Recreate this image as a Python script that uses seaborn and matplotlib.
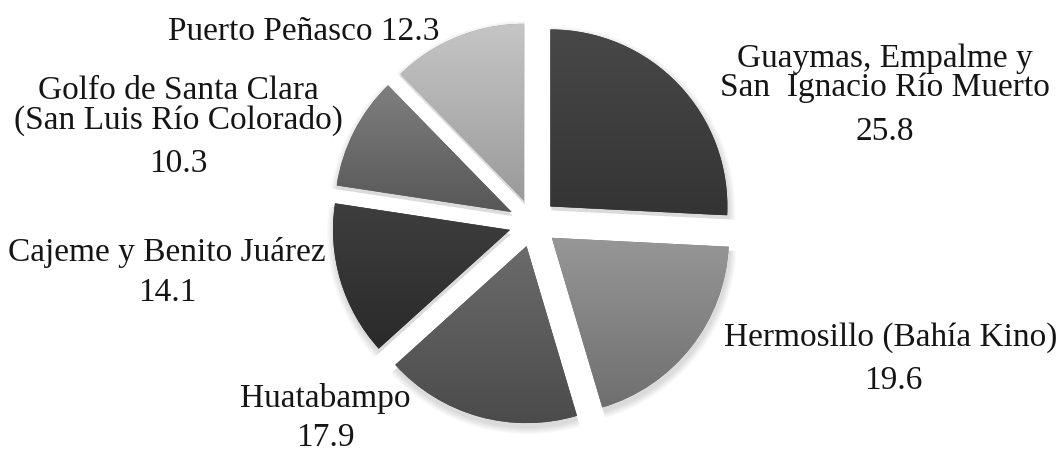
import numpy as np
import matplotlib
matplotlib.use("Agg")
import matplotlib.pyplot as plt
import seaborn as sns
from matplotlib.colors import LinearSegmentedColormap

# Share of the catch by fishing region (%), clockwise from 12 o'clock
regions = [
    "Guaymas, Empalme y\nSan  Ignacio Río Muerto",
    "Hermosillo (Bahía Kino)",
    "Huatabampo",
    "Cajeme y Benito Juárez",
    "Golfo de Santa Clara\n(San Luis Río Colorado)",
    "Puerto Peñasco",
]
shares = [25.8, 19.6, 17.9, 14.1, 10.3, 12.3]

# grey shading of each slice, top and bottom of its gradient
shade_top = ["#484848", "#979797", "#6b6b6b", "#3e3e3e", "#7f7f7f", "#c5c5c5"]
shade_bottom = ["#343434", "#6f6f6f", "#4b4b4b", "#2a2a2a", "#575757", "#9b9b9b"]

W, H = 1058, 453
sns.set_theme(style="white")
plt.rcParams["font.family"] = ["Liberation Serif", "DejaVu Serif"]

fig = plt.figure(figsize=(W / 100, H / 100), dpi=100)
ax = fig.add_axes([0, 0, 1, 1])

center = (533, H - 223)
R = 177
gap = 24
explode = [gap] * len(shares)
pie_kw = dict(startangle=90, counterclock=False, explode=explode)

# soft drop shadow under the slices
for k in range(6):
    ax.pie(shares, radius=R + 1 + k * 1.2, center=(center[0] + 1, center[1] - 4),
           colors=["#000000"] * len(shares),
           wedgeprops=dict(alpha=0.025, linewidth=0), **pie_kw)

wedges, _ = ax.pie(shares, radius=R, center=center, colors=shade_bottom,
                   wedgeprops=dict(linewidth=0), **pie_kw)

# vertical gradient inside every slice
grad = np.linspace(0, 1, 256).reshape(-1, 1)
for w, top, bot in zip(wedges, shade_top, shade_bottom):
    cmap = LinearSegmentedColormap.from_list("slice", [bot, top])
    ext = w.get_path().get_extents()
    im = ax.imshow(grad, extent=(ext.x0, ext.x1, ext.y0, ext.y1), origin="lower",
                   cmap=cmap, aspect="auto", interpolation="bilinear", zorder=3)
    im.set_clip_path(w)

# label anchors (pixels from top-left): name line(s) centre, value centre
label_layout = [
    ((885, 73), (885, 132)),
    ((891, 338), (893, 381)),
    ((325, 398), (325, 438)),
    ((167, 252), (167, 293)),
    ((178, 106), (178, 164)),
]
fs = 24
for name, v, ((nx, ny), (vx, vy)) in zip(regions[:5], shares[:5], label_layout):
    ax.text(nx, H - ny, name, ha="center", va="center", fontsize=fs,
            color="#151515", linespacing=0.95, zorder=5)
    ax.text(vx, H - vy, f"{v:.1f}", ha="center", va="center", fontsize=fs,
            color="#151515", zorder=5)
ax.text(304, H - 32, f"{regions[5]} {shares[5]:.1f}", ha="center", va="center",
        fontsize=fs, color="#151515", zorder=5)

ax.set_xlim(0, W)
ax.set_ylim(0, H)
ax.set_aspect("auto")
ax.axis("off")
fig.savefig("out.png", dpi=100, facecolor="white")
